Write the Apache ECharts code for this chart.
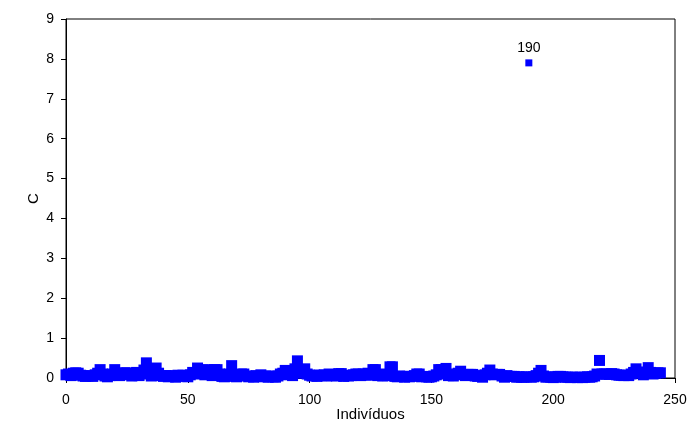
<!DOCTYPE html>
<html>
<head>
<meta charset="utf-8">
<script src="https://cdn.jsdelivr.net/npm/echarts@6/dist/echarts.min.js"></script>
<style>html,body{margin:0;padding:0;background:#fff;}#c{width:692px;height:425px;}</style>
</head>
<body>
<div id="c"></div>
<script>
var xTicks = [0, 50, 100, 150, 200, 250];
var yTicks = [0, 1, 2, 3, 4, 5, 6, 7, 8, 9];
var values = [
  0.08,0.10,0.06,0.12,0.13,0.12,0.07,0.05,0.04,0.05,
  0.06,0.04,0.08,0.12,0.21,0.10,0.05,0.03,0.06,0.10,
  0.21,0.12,0.06,0.10,0.13,0.13,0.08,0.05,0.10,0.14,
  0.06,0.10,0.20,0.38,0.12,0.05,0.10,0.25,0.12,0.06,
  0.04,0.06,0.03,0.06,0.05,0.02,0.07,0.04,0.07,0.05,
  0.03,0.08,0.14,0.10,0.25,0.12,0.20,0.08,0.21,0.10,
  0.06,0.21,0.21,0.10,0.04,0.03,0.06,0.10,0.31,0.04,
  0.03,0.06,0.10,0.10,0.05,0.03,0.04,0.02,0.06,0.04,
  0.08,0.03,0.05,0.02,0.05,0.03,0.02,0.05,0.10,0.12,
  0.19,0.08,0.10,0.06,0.23,0.43,0.12,0.15,0.23,0.10,
  0.07,0.05,0.07,0.04,0.07,0.06,0.08,0.05,0.10,0.06,
  0.08,0.05,0.11,0.11,0.04,0.07,0.05,0.06,0.08,0.10,
  0.10,0.06,0.10,0.08,0.12,0.07,0.21,0.21,0.06,0.08,
  0.05,0.10,0.06,0.28,0.28,0.04,0.03,0.05,0.04,0.02,
  0.04,0.03,0.04,0.06,0.10,0.10,0.03,0.04,0.03,0.02,
  0.03,0.05,0.08,0.21,0.21,0.10,0.24,0.06,0.10,0.05,
  0.08,0.12,0.17,0.09,0.06,0.09,0.09,0.09,0.05,0.04,
  0.06,0.02,0.08,0.12,0.20,0.10,0.08,0.09,0.09,0.05,
  0.02,0.06,0.04,0.04,0.04,0.02,0.03,0.02,0.02,0.03,
  null,0.02,0.03,0.06,0.12,0.19,0.05,0.02,0.03,0.02,
  0.01,0.02,0.04,0.04,0.03,0.02,0.02,0.01,0.02,0.02,
  0.01,0.02,0.01,0.02,0.03,0.02,0.03,0.05,0.10,0.44,
  0.10,0.10,0.10,0.09,0.11,0.10,0.08,0.07,0.07,0.06,
  0.07,0.06,0.10,0.14,0.23,0.14,0.12,0.08,0.15,0.26,
  0.14,0.10,0.12,0.13,0.13
];
var outlierIndex = [190];
var outlierValue = [7.9];
var outlierLabel = ['190'];

var mainData = [];
for (var i = 0; i < values.length; i++) {
  if (values[i] !== null) mainData.push([i, values[i]]);
}
var outData = outlierIndex.map(function (x, k) { return { value: [x, outlierValue[k]], name: outlierLabel[k] }; });

var chart = echarts.init(document.getElementById('c'), null, { renderer: 'canvas' });
var font = 'Liberation Sans, Arial, sans-serif';
chart.setOption({
  animation: false,
  backgroundColor: '#fff',
  grid: { left: 66, right: 17, top: 19, bottom: 47, show: true, borderColor: '#000', borderWidth: 1, outerBoundsMode: 'none', containLabel: false },
  xAxis: {
    type: 'value', min: xTicks[0], max: xTicks[xTicks.length - 1], interval: 50,
    name: 'Indivíduos', nameLocation: 'middle', nameGap: 29, nameMoveOverlap: false,
    nameTextStyle: { fontFamily: font, fontSize: 15, color: '#000' },
    axisLine: { show: true, lineStyle: { color: '#000', width: 1 } },
    axisTick: { show: true, length: 5, lineStyle: { color: '#000' } },
    axisLabel: { fontFamily: font, fontSize: 14, color: '#000', margin: 15 },
    splitLine: { show: false }
  },
  yAxis: {
    type: 'value', min: yTicks[0], max: yTicks[yTicks.length - 1], interval: 1,
    name: 'C', nameLocation: 'middle', nameGap: 25, nameRotate: 90, nameMoveOverlap: false,
    nameTextStyle: { fontFamily: font, fontSize: 15, color: '#000' },
    axisLine: { show: true, lineStyle: { color: '#000', width: 1 } },
    axisTick: { show: true, length: 5, lineStyle: { color: '#000' } },
    axisLabel: { fontFamily: font, fontSize: 14, color: '#000', margin: 12 },
    splitLine: { show: false }
  },
  series: [
    {
      type: 'scatter', data: mainData, symbol: 'rect', symbolSize: 11,
      itemStyle: { color: '#0000FF', opacity: 1 }
    },
    {
      type: 'scatter', data: outData, symbol: 'rect', symbolSize: 7,
      itemStyle: { color: '#0000FF', opacity: 1 },
      label: { show: true, position: 'top', distance: 4, formatter: '{b}', fontFamily: font, fontSize: 14, color: '#000' }
    }
  ]
});
</script>
</body>
</html>
